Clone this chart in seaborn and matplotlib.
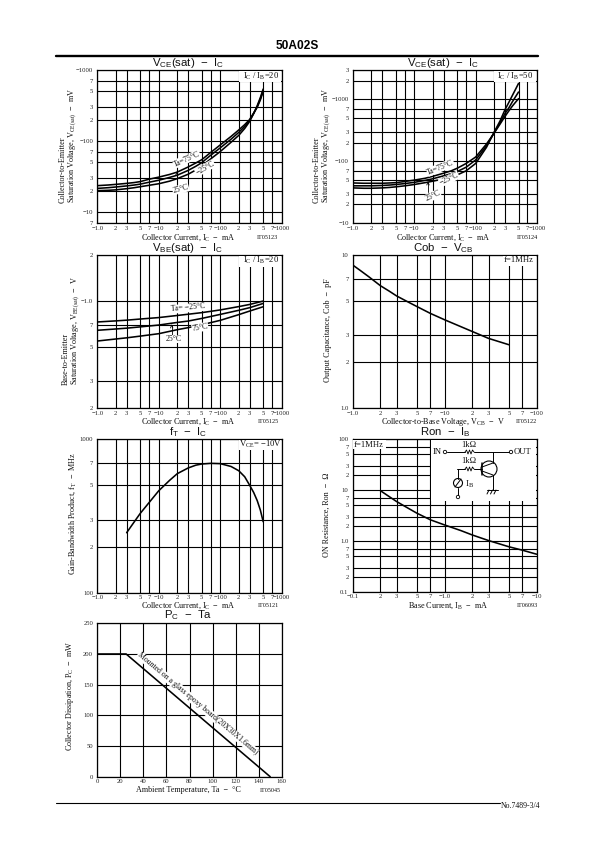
"""
Characteristic curves page of the 50A02S datasheet.

Outputs:
    out.png
"""

import matplotlib.pyplot as plt
import seaborn as sns
from matplotlib.lines import Line2D
from matplotlib.patches import Circle, Rectangle
from matplotlib.transforms import Affine2D


PAGE_W = 595
PAGE_H = 842
SERIF = "Liberation Serif"
SANS = "Liberation Sans"

# ---------------------------------------------------------------------
# Curves read from the page
# ---------------------------------------------------------------------

IC_SAT = [1, 1.5, 2, 3, 4, 5, 7, 10, 15, 20, 30, 40, 50, 70, 100, 150, 200, 250, 300, 350, 400, 450, 500]
VCE20_75 = [23.5, 24, 24.5, 25.3, 26, 26.8, 29, 31, 33.8, 36.5, 43, 49, 54.5, 69, 88, 116, 143, 170, 200, 248, 300, 380, 500]
VCE20_25 = [21.5, 22, 22.5, 23.3, 24, 24.7, 26.3, 28, 30.7, 33, 38.5, 44, 49.5, 63, 80, 106, 132, 160, 195, 245, 305, 395, 520]
VCE20_M25 = [20, 20.2, 20.5, 21.3, 22, 22.7, 23.8, 25, 27.2, 29.5, 34, 39, 44.5, 56, 71, 96, 120, 150, 188, 243, 315, 410, 540]

VCE50_75 = [44.5, 44, 44, 44, 44.5, 45, 47, 49.5, 53, 57, 64, 70, 77, 92, 117, 190, 285, 400, 530, 660, 790, 910, 1030]
VCE50_25 = [40, 40, 40, 40.5, 41.2, 42, 43.5, 45.5, 49, 52, 58, 63, 68, 80, 105, 178, 290, 420, 590, 740, 930, 1120, 1320]
VCE50_M25 = [37, 36.5, 36.5, 37, 37.7, 38.5, 40, 42, 45, 47.5, 52, 56, 60, 70, 92, 168, 295, 450, 680, 910, 1180, 1480, 1820]

IC_VBE = [1, 2, 3, 5, 10, 20, 30, 50, 100, 200, 300, 500]
VBE_M25 = [0.73, 0.742, 0.75, 0.763, 0.78, 0.805, 0.82, 0.84, 0.875, 0.92, 0.95, 1.0]
VBE_25 = [0.644, 0.657, 0.665, 0.678, 0.697, 0.725, 0.74, 0.77, 0.818, 0.87, 0.905, 0.965]
VBE_75 = [0.548, 0.565, 0.575, 0.59, 0.612, 0.65, 0.67, 0.70, 0.748, 0.815, 0.86, 0.918]

VCB = [1, 1.2, 1.5, 2, 2.5, 3, 4, 5, 7, 10, 15, 20, 30, 50]
COB = [8.6, 7.95, 7.2, 6.3, 5.8, 5.4, 4.93, 4.6, 4.15, 3.77, 3.4, 3.16, 2.85, 2.59]

IC_FT = [3, 4, 5, 7, 10, 15, 20, 30, 40, 50, 70, 100, 150, 200, 250, 300, 350, 400, 450, 500]
FT = [246, 290, 329, 388, 462, 540, 597, 650, 678, 690, 697, 694, 665, 624, 570, 503, 450, 398, 345, 290]

IB = [0.2, 0.25, 0.3, 0.4, 0.5, 0.7, 1, 1.5, 2, 3, 5, 7, 10]
RON = [9.7, 7.4, 5.94, 4.4, 3.5, 2.6, 2.06, 1.6, 1.31, 1.02, 0.77, 0.66, 0.55]

TA = [0, 25, 150]
PC = [200, 200, 0]

# ---------------------------------------------------------------------
# Axis ticks
# ---------------------------------------------------------------------

X_IC_TICKS = [1, 2, 3, 5, 7, 10, 20, 30, 50, 70, 100, 200, 300, 500, 700, 1000]
X_IC_LABELS = ["−1.0", "2", "3", "5", "7", "−10", "2", "3", "5", "7", "−100", "2", "3", "5", "7", "−1000"]
X_VCB_TICKS = [1, 2, 3, 5, 7, 10, 20, 30, 50, 70, 100]
X_VCB_LABELS = ["−1.0", "2", "3", "5", "7", "−10", "2", "3", "5", "7", "−100"]
X_IB_TICKS = [0.1, 0.2, 0.3, 0.5, 0.7, 1, 2, 3, 5, 7, 10]
X_IB_LABELS = ["−0.1", "2", "3", "5", "7", "−1.0", "2", "3", "5", "7", "−10"]
X_TA_TICKS = [0, 20, 40, 60, 80, 100, 120, 140, 160]
X_TA_LABELS = ["0", "20", "40", "60", "80", "100", "120", "140", "160"]

Y_P1_TICKS = [7, 10, 20, 30, 50, 70, 100, 200, 300, 500, 700, 1000]
Y_P1_LABELS = ["7", "−10", "2", "3", "5", "7", "−100", "2", "3", "5", "7", "−1000"]
Y_P2_TICKS = [10, 20, 30, 50, 70, 100, 200, 300, 500, 700, 1000, 2000, 3000]
Y_P2_LABELS = ["−10", "2", "3", "5", "7", "−100", "2", "3", "5", "7", "−1000", "2", "3"]
Y_P3_TICKS = [0.2, 0.3, 0.5, 0.7, 1, 2]
Y_P3_LABELS = ["2", "3", "5", "7", "−1.0", "2"]
Y_P4_TICKS = [1, 2, 3, 5, 7, 10]
Y_P4_LABELS = ["1.0", "2", "3", "5", "7", "10"]
Y_P5_TICKS = [100, 200, 300, 500, 700, 1000]
Y_P5_LABELS = ["100", "2", "3", "5", "7", "1000"]
Y_P6_TICKS = [0.1, 0.2, 0.3, 0.5, 0.7, 1, 2, 3, 5, 7, 10, 20, 30, 50, 70, 100]
Y_P6_LABELS = ["0.1", "2", "3", "5", "7", "1.0", "2", "3", "5", "7", "10", "2", "3", "5", "7", "100"]
Y_P7_TICKS = [0, 50, 100, 150, 200, 250]
Y_P7_LABELS = ["0", "50", "100", "150", "200", "250"]

sns.set_theme(style="whitegrid")
plt.rcParams["font.family"] = [SERIF, "DejaVu Sans"]
plt.rcParams["axes.edgecolor"] = "black"
plt.rcParams["axes.linewidth"] = 0.8

fig = plt.figure(figsize=(PAGE_W / 100, PAGE_H / 100), dpi=100, facecolor="white")

# page pixels, y going down, as measured on the scan
PAGE = Affine2D().scale(1, -1).translate(0, PAGE_H)


def page_text(x, y, s, size=5.9, **kwargs):
    kwargs.setdefault("ha", "center")
    kwargs.setdefault("va", "center")
    kwargs.setdefault("color", "#111111")
    fig.text(x, y, s, transform=PAGE, fontsize=size, **kwargs)


def page_line(xs, ys, lw=0.7):
    fig.add_artist(Line2D(xs, ys, transform=PAGE, color="black", lw=lw, zorder=2))


def white_box(x0, y0, x1, y1):
    fig.add_artist(
        Rectangle((x0, y0), x1 - x0, y1 - y0, transform=PAGE,
                  facecolor="white", edgecolor="none", zorder=1)
    )


def make_axes(box, xticks, xlabels, yticks, ylabels, log=True):
    left, top, right, bottom = box
    ax = fig.add_axes([
        left / PAGE_W,
        1 - bottom / PAGE_H,
        (right - left) / PAGE_W,
        (bottom - top) / PAGE_H,
    ])
    if log:
        ax.set_xscale("log")
        ax.set_yscale("log")
    ax.set_xlim(xticks[0], xticks[-1])
    ax.set_ylim(yticks[0], yticks[-1])
    ax.set_xticks(xticks, xlabels)
    ax.set_yticks(yticks, ylabels)
    ax.minorticks_off()
    ax.grid(True, color="black", linewidth=0.8)
    ax.set_axisbelow(True)
    ax.tick_params(length=0, labelsize=4.8, colors="#222222")
    ax.tick_params(axis="x", pad=1.8)
    ax.tick_params(axis="y", pad=3)
    for spine in ax.spines.values():
        spine.set_color("black")
        spine.set_linewidth(0.9)
    return ax


def draw(ax, xs, ys):
    sns.lineplot(x=xs, y=ys, ax=ax, color="black", linewidth=1.15,
                 estimator=None, sort=False, legend=False)
    ax.set_xlabel("")
    ax.set_ylabel("")


def curve_label(x, y, s, rotation=0):
    page_text(x, y, s, size=5.6, rotation=rotation, rotation_mode="anchor",
              bbox=dict(facecolor="white", edgecolor="none", pad=0.2))


def leader(x, y0, y1):
    page_line([x, x], [y0, y1], lw=0.6)
    page_line([x - 1.2, x, x + 1.2], [y0 + 3, y0, y0 + 3], lw=0.6)


def title(x, y, s):
    page_text(x, y, s, size=8.2, family=SANS)


def y_label(x, y_bottom, s):
    page_text(x, y_bottom, s, size=5.9, rotation=90, va="bottom")


# ---------------------------------------------------------------------
# Header and footer
# ---------------------------------------------------------------------

page_text(297, 46, "50A02S", size=8.6, family=SANS, weight="bold", color="black")
page_line([56, 538], [56, 56], lw=1.7)
page_line([56, 500], [803, 803], lw=0.8)
page_text(521, 806, "No.7489-3/4", size=5.6)

# ---------------------------------------------------------------------
# VCE(sat) - IC, IC/IB=20
# ---------------------------------------------------------------------

ax = make_axes((97.3, 70, 281.7, 223), X_IC_TICKS, X_IC_LABELS, Y_P1_TICKS, Y_P1_LABELS)
for ys in (VCE20_75, VCE20_25, VCE20_M25):
    draw(ax, IC_SAT, ys)
title(188, 63, r"$\mathregular{V_{CE}}$(sat)  −  $\mathregular{I_C}$")
white_box(239.3, 70.6, 281, 81.7)
page_text(260.7, 76.5, r"$\mathregular{I_C}$ / $\mathregular{I_B}$=20", size=6.2)
curve_label(186.7, 159, "Ta=75°C", 24)
curve_label(205, 168, "−25°C", 30)
curve_label(180.7, 189, "25°C", 15)
leader(177, 172, 185)
y_label(63, 203, "Collector-to-Emitter")
y_label(73, 203, r"Saturation Voltage, $\mathregular{V_{CE(sat)}}$  −  mV")
page_text(188, 237.5, r"Collector Current, $\mathregular{I_C}$  −  mA")
page_text(267, 237.5, "IT05123", size=4.4)

# ---------------------------------------------------------------------
# VCE(sat) - IC, IC/IB=50
# ---------------------------------------------------------------------

ax = make_axes((353, 70, 537, 223), X_IC_TICKS, X_IC_LABELS, Y_P2_TICKS, Y_P2_LABELS)
for ys in (VCE50_75, VCE50_25, VCE50_M25):
    draw(ax, IC_SAT, ys)
title(443, 63, r"$\mathregular{V_{CE}}$(sat)  −  $\mathregular{I_C}$")
white_box(494.3, 70.6, 536.3, 81.7)
page_text(515, 76.5, r"$\mathregular{I_C}$ / $\mathregular{I_B}$=50", size=6.2)
curve_label(440.5, 167.5, "Ta=75°C", 22)
curve_label(449, 179, "−25°C", 25)
curve_label(432.7, 196, "25°C", 25)
leader(428, 182, 192)
y_label(317, 203, "Collector-to-Emitter")
y_label(327, 203, r"Saturation Voltage, $\mathregular{V_{CE(sat)}}$  −  mV")
page_text(443, 237.5, r"Collector Current, $\mathregular{I_C}$  −  mA")
page_text(527, 237.5, "IT05124", size=4.4)

# ---------------------------------------------------------------------
# VBE(sat) - IC
# ---------------------------------------------------------------------

ax = make_axes((97.3, 255, 281.7, 408), X_IC_TICKS, X_IC_LABELS, Y_P3_TICKS, Y_P3_LABELS)
for ys in (VBE_M25, VBE_25, VBE_75):
    draw(ax, IC_VBE, ys)
title(188, 248, r"$\mathregular{V_{BE}}$(sat)  −  $\mathregular{I_C}$")
white_box(239.3, 255.6, 281, 266.7)
page_text(260.7, 260.5, r"$\mathregular{I_C}$ / $\mathregular{I_B}$=20", size=6.2)
curve_label(188, 308, "Ta= −25°C", 5)
curve_label(200, 327.5, "75°C", 10)
curve_label(174, 339, "25°C", 0)
leader(171.7, 325, 335)
y_label(66, 385, "Base-to-Emitter")
y_label(76, 385, r"Saturation Voltage, $\mathregular{V_{BE(sat)}}$  −  V")
page_text(188, 421.5, r"Collector Current, $\mathregular{I_C}$  −  mA")
page_text(268, 421.5, "IT05125", size=4.4)

# ---------------------------------------------------------------------
# Cob - VCB
# ---------------------------------------------------------------------

ax = make_axes((352.7, 255, 536.7, 408), X_VCB_TICKS, X_VCB_LABELS, Y_P4_TICKS, Y_P4_LABELS)
draw(ax, VCB, COB)
title(443, 248, r"Cob  −  $\mathregular{V_{CB}}$")
white_box(503, 255.6, 536.2, 266)
page_text(519, 260.5, "f=1MHz", size=6.2)
y_label(328, 382, "Output Capacitance, Cob  −  pF")
page_text(443, 421.5, r"Collector-to-Base Voltage, $\mathregular{V_{CB}}$  −  V")
page_text(526, 421.5, "IT05122", size=4.4)

# ---------------------------------------------------------------------
# fT - IC
# ---------------------------------------------------------------------

ax = make_axes((97.3, 439.3, 281.7, 592.7), X_IC_TICKS, X_IC_LABELS, Y_P5_TICKS, Y_P5_LABELS)
draw(ax, IC_FT, FT)
title(188, 432, r"$\mathregular{f_T}$  −  $\mathregular{I_C}$")
white_box(239.3, 439.9, 281, 450)
page_text(260, 444, r"$\mathregular{V_{CE}}$= −10V", size=6.2)
y_label(73, 575, r"Gain-Bandwidth Product, $\mathregular{f_T}$  −  MHz")
page_text(188, 605.5, r"Collector Current, $\mathregular{I_C}$  −  mA")
page_text(268, 605.5, "IT05121", size=4.4)

# ---------------------------------------------------------------------
# Ron - IB, with the test circuit in the corner
# ---------------------------------------------------------------------

ax = make_axes((352.7, 439, 536.7, 592), X_IB_TICKS, X_IB_LABELS, Y_P6_TICKS, Y_P6_LABELS)
draw(ax, IB, RON)
title(445, 432, r"Ron  −  $\mathregular{I_B}$")
white_box(353.2, 439.6, 386, 449)
page_text(369, 445, "f=1MHz", size=6.2)
white_box(430.7, 439.6, 536.2, 501)
y_label(327, 557, "ON Resistance, Ron  −  Ω")
page_text(448, 605.5, r"Base Current, $\mathregular{I_B}$  −  mA")
page_text(527, 605.5, "IT06093", size=4.4)

page_text(437, 452, "IN", size=6.2)
page_text(523, 452, "OUT", size=6.2)
page_text(469, 445, "1kΩ", size=6.2)
page_text(469, 461, "1kΩ", size=6.2)
page_text(470, 484, r"$\mathregular{I_B}$", size=6.6)

# transistor, current source and terminals go under the wires
for cx, cy, r, lw in ((489, 469, 8, 0.8), (458, 483, 4.5, 0.8),
                      (445, 452, 1.7, 0.6), (511, 452, 1.7, 0.6), (458, 497, 1.7, 0.6)):
    fig.add_artist(Circle((cx, cy), r, transform=PAGE, facecolor="white",
                          edgecolor="black", lw=lw, zorder=1.5))
# wires
page_line([447, 465], [452, 452])
page_line([474, 509], [452, 452])
page_line([457, 465], [469, 469])
page_line([474, 482], [469, 469])
page_line([458, 458], [469, 478.5])
page_line([458, 458], [487.5, 495])
page_line([493, 493], [452, 463])
page_line([493, 493], [475, 490])
page_line([482, 482], [463, 475], lw=1.1)
page_line([482, 493], [467, 463])
page_line([482, 493], [471, 475])
page_line([487, 498], [490, 490])
for gx in (489, 492.5, 496):
    page_line([gx, gx - 2], [490, 494])
# zigzag of both resistors
for ry in (452, 469):
    page_line([465, 466.5, 468, 469.5, 471, 472.5, 474],
              [ry, ry - 2, ry + 2, ry - 2, ry + 2, ry - 2, ry], lw=0.6)
page_line([455, 461], [487, 479])

# ---------------------------------------------------------------------
# PC - Ta
# ---------------------------------------------------------------------

ax = make_axes((97.3, 623.3, 281.7, 776.7), X_TA_TICKS, X_TA_LABELS, Y_P7_TICKS, Y_P7_LABELS, log=False)
draw(ax, TA, PC)
title(188, 615, r"$\mathregular{P_C}$  −  Ta")
page_text(197.5, 703.5, "Mounted on a glass epoxy board(20X30X1.6mm)", size=5.6,
          rotation=-40, rotation_mode="anchor",
          bbox=dict(facecolor="white", edgecolor="none", pad=0.2))
y_label(70, 751, r"Collector Dissipation, $\mathregular{P_C}$  −  mW")
page_text(188, 789.5, "Ambient Temperature, Ta  −  °C")
page_text(270, 791, "IT05045", size=4.4)

fig.savefig("out.png", dpi=100)
plt.close(fig)
